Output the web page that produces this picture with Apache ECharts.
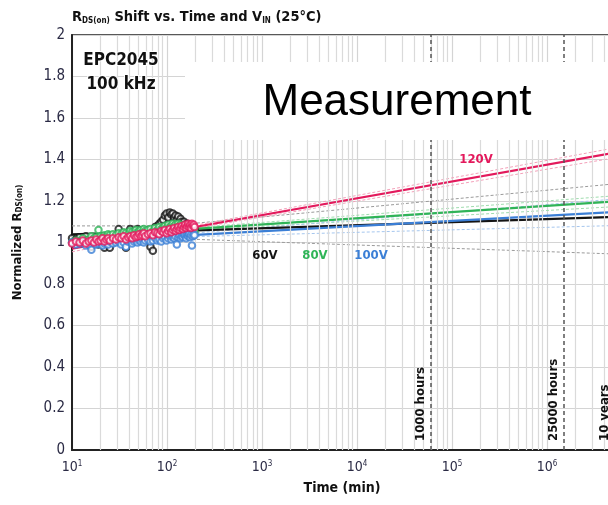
<!DOCTYPE html>
<html>
<head>
<meta charset="utf-8">
<script src="https://cdn.jsdelivr.net/npm/echarts@6/dist/echarts.min.js"></script>
<style>
  html, body { margin: 0; padding: 0; background: #ffffff; }
  #chart { width: 608px; height: 505px; }
</style>
</head>
<body>
<div id="chart"></div>
<script>
// Condensed face used for all annotation text
const NARROW = "'DejaVu Sans Condensed','Liberation Sans Narrow','Noto Sans',sans-serif";

// Measurement sample times (min), shared by all four bias conditions
const times = [10, 11, 12, 13, 14, 15, 16, 17, 18, 19, 20, 21, 22, 23, 24, 25,
  27, 29, 31, 33, 35, 37, 39, 41, 43, 45, 47, 49, 51, 53, 55, 57, 59,
  63, 67, 71, 75, 79, 83, 87, 91, 95, 99, 103, 107, 111, 115, 119, 123, 127, 131, 135, 139,
  143, 147, 151, 155, 159, 163, 167, 171, 175, 179, 183, 187, 191, 195];

// Normalized RDS(on) measurements
const meas60 = [1.02, 1.015, 1.025, 1.01, 1.03, 1.00, 0.98, 1.01, 1.02, 0.99, 1.02, 1.005, 0.975, 1.01, 1.00, 0.975,
  1.01, 1.03, 1.065, 1.04, 1.02, 0.975, 1.04, 1.065, 1.05, 1.03, 1.055, 1.065, 1.04, 1.05, 1.06, 1.045, 1.055,
  1.06, 0.98, 0.96, 1.075, 1.08, 1.09, 1.10, 1.11, 1.13, 1.14, 1.12, 1.145, 1.135, 1.14, 1.12, 1.13, 1.11, 1.125, 1.10, 1.115,
  1.10, 1.09, 1.10, 1.085, 1.08, 1.09, 1.075, 1.08, 1.07, 1.075, 1.065, 1.07, 1.06, 1.065];
const meas80 = [1.00, 1.01, 1.005, 1.02, 1.01, 1.015, 1.03, 1.02, 1.025, 1.06, 1.03, 1.025, 1.035, 1.03, 1.04, 1.035,
  1.04, 1.035, 1.045, 1.04, 1.05, 1.045, 1.04, 1.055, 1.05, 1.045, 1.06, 1.05, 1.055, 1.06, 1.05, 1.065, 1.055,
  1.06, 1.065, 1.055, 1.07, 1.06, 1.075, 1.065, 1.07, 1.08, 1.07, 1.085, 1.075, 1.08, 1.09, 1.08, 1.085, 1.075, 1.09, 1.08, 1.085,
  1.075, 1.08, 1.07, 1.075, 1.065, 1.07, 1.06, 1.065, 1.07, 1.06, 1.065, 1.055, 1.06, 1.05];
const meas100 = [1.00, 0.99, 0.995, 1.00, 0.985, 0.99, 0.965, 1.00, 0.99, 0.995, 1.00, 0.985, 0.995, 1.00, 0.99, 1.005,
  0.995, 1.00, 1.005, 0.99, 1.00, 0.98, 1.005, 1.01, 0.995, 1.005, 1.01, 1.00, 1.01, 1.005, 1.015, 1.00, 1.01,
  1.015, 1.005, 1.01, 1.02, 1.01, 1.015, 1.005, 1.02, 1.025, 1.01, 1.02, 1.03, 1.015, 1.025, 1.02, 1.03, 0.99, 1.025, 1.035, 1.02,
  1.03, 1.025, 1.04, 1.03, 1.02, 1.035, 1.03, 1.04, 1.025, 1.035, 0.985, 1.03, 1.04, 1.035];
const meas120 = [0.995, 1.005, 1.00, 1.01, 0.995, 1.005, 1.01, 1.00, 1.015, 1.005, 1.01, 1.02, 1.005, 1.015, 1.02, 1.01,
  1.02, 1.015, 1.025, 1.02, 1.03, 1.015, 1.025, 1.03, 1.02, 1.035, 1.025, 1.03, 1.04, 1.03, 1.035, 1.045, 1.03,
  1.04, 1.045, 1.035, 1.05, 1.045, 1.04, 1.055, 1.05, 1.06, 1.045, 1.055, 1.065, 1.05, 1.06, 1.07, 1.055, 1.065, 1.075, 1.06, 1.07,
  1.08, 1.065, 1.075, 1.085, 1.07, 1.08, 1.09, 1.075, 1.085, 1.07, 1.09, 1.08, 1.085, 1.075];

// Fitted trend (end points of each straight log-time fit)
const fitTimes = [10, 1e7];
const fit60 = [1.039, 1.128];
const fit80 = [1.027, 1.207];
const fit100 = [1.004, 1.154];
const fit120 = [0.970, 1.456];

// Confidence bounds around each fit
const boundTimes = [10, 100, 1e7];
const upper60 = [1.08, 1.08, 1.295];
const lower60 = [1.03, 1.02, 0.94];
const upper80 = [1.04, 1.062, 1.235];
const lower80 = [1.01, 1.052, 1.18];
const upper100 = [1.01, 1.035, 1.22];
const lower100 = [0.995, 1.025, 1.085];
const upper120 = [0.985, 1.058, 1.48];
const lower120 = [0.955, 1.046, 1.43];

// Lifetime milestones (min)
const milestoneTimes = [60000, 1500000, 5256000];
const milestoneNames = ['1000 hours', '25000 hours', '10 years'];

// Axis ranges
const xMin = 10, xMax = 1e7;
const yMin = 0, yMax = 2, yStep = 0.2;

const C60 = '#141414', C80 = '#2fb457', C100 = '#3b7fd6', C120 = '#e3195c';

function pairs(xs, ys) { return xs.map((x, i) => [x, ys[i]]); }

// minor log grid positions: 2..9 in each decade
const minorGrid = [];
for (let d = 1; d < 7; d++) for (let m = 2; m <= 9; m++) minorGrid.push(m * Math.pow(10, d));

function scatterSeries(name, data, color, z) {
  return {
    name, type: 'scatter', data: pairs(times, data), symbol: 'emptyCircle', symbolSize: 6.5,
    itemStyle: { color: color, borderColor: color, borderWidth: 1.3 }, z: z, silent: true
  };
}
function fitSeries(data, color) {
  return {
    type: 'line', data: pairs(fitTimes, data), symbol: 'none',
    lineStyle: { color: color, width: 2.2 }, z: 4, silent: true
  };
}
function boundSeries(data, color) {
  return {
    type: 'line', data: pairs(boundTimes, data), symbol: 'none',
    lineStyle: { color: color, width: 1, type: [3, 2] }, z: 3, silent: true
  };
}

const chart = echarts.init(document.getElementById('chart'), null, { renderer: 'canvas' });

const option = {
  animation: false,
  backgroundColor: '#ffffff',
  grid: {
    left: 72, top: 35, bottom: 55, right: -34, show: true,
    borderColor: '#222', borderWidth: 1.5, containLabel: false, outerBoundsMode: 'none'
  },
  xAxis: {
    type: 'log', min: xMin, max: xMax, logBase: 10,
    axisLine: { show: true, onZero: false, lineStyle: { color: '#222', width: 2 } },
    axisTick: { show: false },
    splitLine: { show: true, lineStyle: { color: '#d4d4d4', width: 1.2 } },
    axisLabel: {
      margin: 10,
      formatter: v => '{b|10}{s|' + Math.round(Math.log10(v)) + '}',
      rich: {
        b: { fontFamily: NARROW, fontSize: 14, color: '#2b2b45' },
        s: { fontFamily: NARROW, fontSize: 8, color: '#2b2b45', verticalAlign: 'top', padding: [0, 0, 6, 0] }
      }
    }
  },
  yAxis: {
    type: 'value', min: yMin, max: yMax, interval: yStep,
    axisLine: { show: true, lineStyle: { color: '#222', width: 2 } },
    axisTick: { show: false },
    splitLine: { show: true, lineStyle: { color: '#d4d4d4', width: 1.2 } },
    axisLabel: { margin: 7, fontFamily: NARROW, fontSize: 15, color: '#2b2b45' },
    name: '{b|Normalized R}{s|DS(on)}',
    nameLocation: 'middle', nameRotate: 90, nameGap: 48,
    nameTextStyle: {
      rich: {
        b: { fontFamily: NARROW, fontSize: 13, fontWeight: 'bold', color: '#111' },
        s: { fontFamily: NARROW, fontSize: 8, fontWeight: 'bold', color: '#111', verticalAlign: 'bottom' }
      }
    }
  },
  series: [
    {
      type: 'line', data: [], silent: true, z: 1,
      markLine: {
        silent: true, symbol: 'none', label: { show: false },
        lineStyle: { color: '#dadada', width: 1.2, type: 'solid' },
        data: minorGrid.map(v => ({ xAxis: v }))
      }
    },
    {
      type: 'line', data: [], silent: true, z: 5,
      markLine: {
        silent: true, symbol: 'none', label: { show: false },
        lineStyle: { color: '#555', width: 1.5, type: [4, 3] },
        data: milestoneTimes.map(t => [{ coord: [t, yMin] }, { coord: [t, yMax] }])
      }
    },
    boundSeries(upper60, '#9a9a9a'), boundSeries(lower60, '#9a9a9a'),
    boundSeries(upper80, '#9fdcae'), boundSeries(lower80, '#9fdcae'),
    boundSeries(upper100, '#a5c6ee'), boundSeries(lower100, '#a5c6ee'),
    boundSeries(upper120, '#f3a0b9'), boundSeries(lower120, '#f3a0b9'),
    fitSeries(fit60, C60), fitSeries(fit100, C100), fitSeries(fit80, C80), fitSeries(fit120, C120),
    scatterSeries('60V', meas60, C60, 6),
    scatterSeries('80V', meas80, C80, 7),
    scatterSeries('100V', meas100, C100, 8),
    scatterSeries('120V', meas120, C120, 9)
  ]
};
chart.setOption(option);

// Annotations placed from axis coordinates
const origin = chart.convertToPixel({ xAxisIndex: 0, yAxisIndex: 0 }, [xMin, yMin]);
const graphics = [];

milestoneTimes.forEach((t, i) => {
  const p = chart.convertToPixel({ xAxisIndex: 0, yAxisIndex: 0 }, [t, yMin]);
  graphics.push({
    type: 'text', x: p[0] - 4, y: p[1] - 9, rotation: Math.PI / 2, z: 50,
    style: { text: milestoneNames[i], font: "bold 13px " + NARROW, fill: '#111', align: 'left', verticalAlign: 'bottom' }
  });
});

graphics.push(
  // white panel behind the caption
  { type: 'rect', shape: { x: 185, y: 62, width: 430, height: 78 }, style: { fill: '#ffffff' }, z: 100 },
  { type: 'text', x: 397, y: 103, z: 101,
    style: { text: 'Measurement', font: "44px 'Liberation Sans', Arial, sans-serif", fill: '#000', align: 'center', verticalAlign: 'middle' } },
  { type: 'text', x: 121, y: 61, z: 101,
    style: { text: 'EPC2045', font: "bold 17px " + NARROW, fill: '#111', align: 'center', verticalAlign: 'middle', stroke: '#fff', lineWidth: 2 } },
  { type: 'text', x: 121, y: 85, z: 101,
    style: { text: '100 kHz', font: "bold 17px " + NARROW, fill: '#111', align: 'center', verticalAlign: 'middle', stroke: '#fff', lineWidth: 2 } },
  // bias labels
  { type: 'text', x: 265, y: 256, z: 60, style: { text: '60V', font: "bold 13px " + NARROW, fill: C60, align: 'center', verticalAlign: 'middle' } },
  { type: 'text', x: 315, y: 256, z: 60, style: { text: '80V', font: "bold 13px " + NARROW, fill: C80, align: 'center', verticalAlign: 'middle' } },
  { type: 'text', x: 371, y: 256, z: 60, style: { text: '100V', font: "bold 13px " + NARROW, fill: C100, align: 'center', verticalAlign: 'middle' } },
  { type: 'text', x: 476, y: 160, z: 60, style: { text: '120V', font: "bold 13px " + NARROW, fill: C120, align: 'center', verticalAlign: 'middle' } },
  // axis title
  { type: 'text', x: 342, y: 488, z: 60, style: { text: 'Time (min)', font: "bold 14px " + NARROW, fill: '#111', align: 'center', verticalAlign: 'middle' } },
  // chart title
  { type: 'text', x: origin[0], y: 17, z: 60,
    style: {
      text: '{b|R}{s|DS(on)}{b| Shift vs. Time and V}{s|IN}{b| (25°C)}',
      verticalAlign: 'middle', align: 'left',
      rich: {
        b: { font: "bold 14.5px " + NARROW, fill: '#111' },
        s: { font: "bold 8px " + NARROW, fill: '#111', verticalAlign: 'bottom' }
      }
    } }
);

chart.setOption({ graphic: graphics });
</script>
</body>
</html>
